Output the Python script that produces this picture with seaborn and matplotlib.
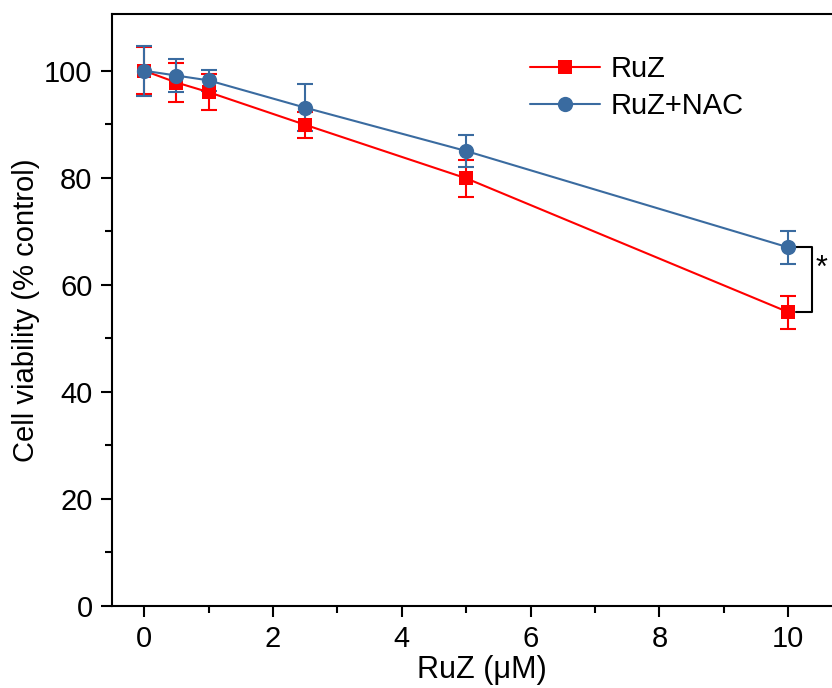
import numpy as np
import pandas as pd
import matplotlib
matplotlib.use("Agg")
import matplotlib.pyplot as plt
import seaborn as sns

# concentrations (uM) and viability (% control)
conc = [0, 0.5, 1, 2.5, 5, 10]
ruz = [100.0, 97.8, 96.0, 89.9, 79.9, 54.9]
ruz_err = [4.4, 3.7, 3.4, 2.4, 3.4, 3.1]
nac = [100.0, 99.1, 98.2, 93.1, 85.0, 67.0]
nac_err = [4.7, 3.1, 2.0, 4.4, 3.0, 3.1]
groups = ["RuZ", "RuZ+NAC"]
colors = {"RuZ": "#FF0000", "RuZ+NAC": "#3A6BA0"}
markers = {"RuZ": "s", "RuZ+NAC": "o"}

df = pd.DataFrame({
    "conc": conc * 2,
    "viability": ruz + nac,
    "err": ruz_err + nac_err,
    "group": [groups[0]] * len(conc) + [groups[1]] * len(conc),
})

sns.set_style("ticks")
plt.rcParams['font.family'] = ['Liberation Sans', 'DejaVu Sans']
plt.rcParams['text.color'] = 'black'
plt.rcParams['axes.labelcolor'] = 'black'
plt.rcParams['xtick.color'] = 'black'
plt.rcParams['ytick.color'] = 'black'

fig = plt.figure(figsize=(8.32, 6.88), dpi=100)
ax = fig.add_axes([112 / 832, 82 / 688, 740 / 832, 592 / 688])

for g in groups:
    d = df[df["group"] == g]
    ax.errorbar(d["conc"], d["viability"], yerr=d["err"], fmt="none",
                ecolor=colors[g], elinewidth=1.5, capsize=6, capthick=1.5, zorder=2)
    sns.lineplot(data=d, x="conc", y="viability", color=colors[g], marker=markers[g],
                 markersize=11 if g == "RuZ+NAC" else 10, markeredgewidth=0,
                 linewidth=1.5, label=g, ax=ax, zorder=3)

# significance bracket at the highest dose
x_b0, x_b1 = 10.12, 10.37
ax.plot([x_b0, x_b1, x_b1, x_b0], [nac[-1], nac[-1], ruz[-1], ruz[-1]],
        color="black", linewidth=1.5, clip_on=False)
ax.text(10.52, nac[-1] - 4, "*", fontsize=22, ha="center", va="center")

ax.set_xlim(-0.5, 10.99)
ax.set_ylim(0, 110.6)
ax.set_xticks([0, 2, 4, 6, 8, 10])
ax.set_xticks([1, 3, 5, 7, 9], minor=True)
ax.set_yticks([0, 20, 40, 60, 80, 100])
ax.set_yticks([10, 30, 50, 70, 90], minor=True)
ax.tick_params(which="major", direction="out", length=8, width=1.5, labelsize=21, pad=6)
ax.tick_params(which="minor", direction="out", length=5, width=1.5)
for s in ax.spines.values():
    s.set_linewidth(1.5)
    s.set_color("black")

ax.set_xlabel("RuZ (μM)", fontsize=22, labelpad=1)
ax.set_ylabel("Cell viability (% control)", fontsize=21, labelpad=3)

leg = ax.legend(loc="upper left", bbox_to_anchor=(0.53, 0.975), frameon=False,
                fontsize=21, handlelength=2.4, handletextpad=0.35, labelspacing=0.3)

fig.savefig("out.png", dpi=100)
